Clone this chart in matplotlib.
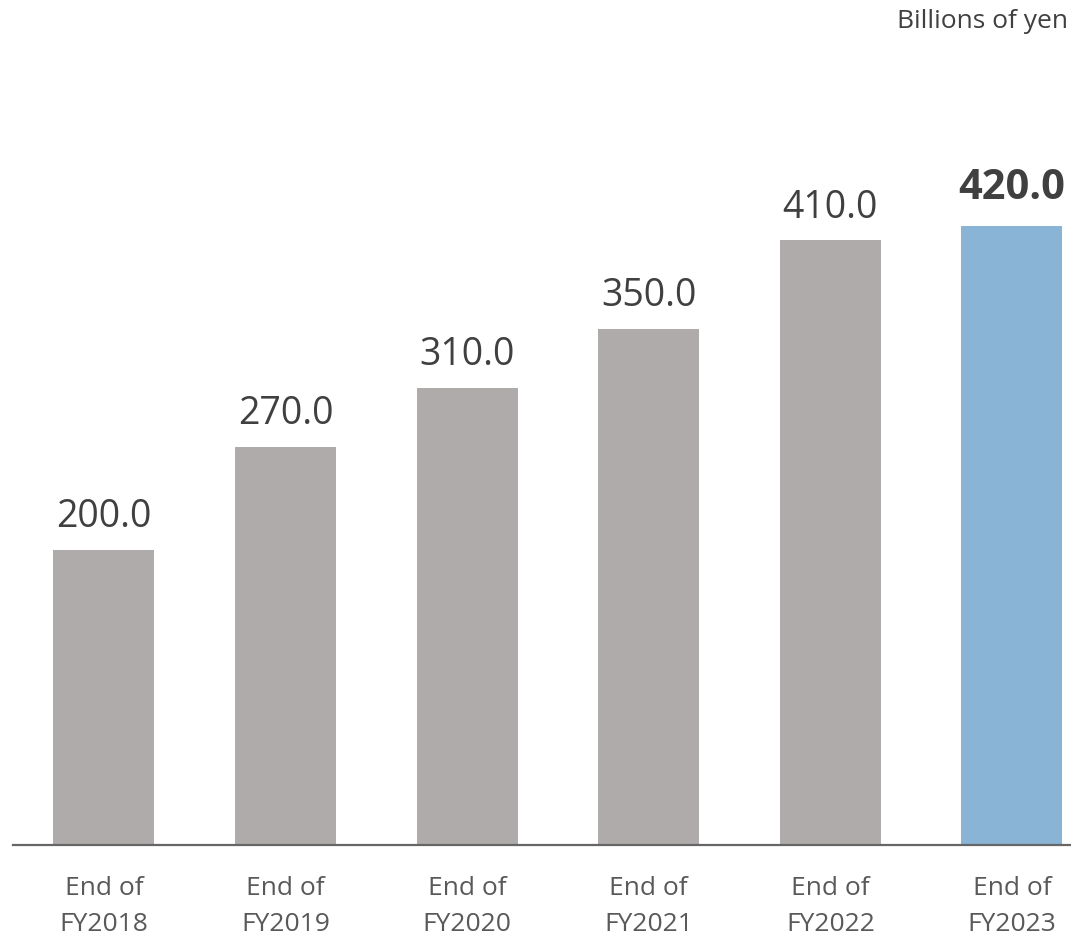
import matplotlib.pyplot as plt

# data
categories = ["End of\nFY2018", "End of\nFY2019", "End of\nFY2020",
              "End of\nFY2021", "End of\nFY2022", "End of\nFY2023"]
values = [200.0, 270.0, 310.0, 350.0, 410.0, 420.0]
colors = ["#AFABAB"] * 5 + ["#8AB4D5"]

plt.rcParams["font.family"] = ["Open Sans", "DejaVu Sans"]

fig = plt.figure(figsize=(10.71, 9.4), dpi=100)
ax = fig.add_axes([0.012, 0.101, 0.988, 0.899])

x = list(range(len(values)))
ax.bar(x, values, width=0.556, color=colors)

for i, v in enumerate(values):
    last = i == len(values) - 1
    ax.annotate(f"{v:.1f}", (i, v), xytext=(0, 12 if last else 10),
                textcoords="offset points", ha="center", va="bottom",
                fontsize=30 if last else 27, color="#404040",
                fontweight="bold" if last else "normal")

ax.set_xlim(-0.501, 5.325)
ax.set_ylim(0, 573)
ax.set_xticks(x)
ax.set_xticklabels(categories, fontsize=19, color="#595959", linespacing=1.6)
ax.tick_params(axis="x", length=0, pad=22)
ax.set_yticks([])
for s in ["top", "right", "left"]:
    ax.spines[s].set_visible(False)
ax.spines["bottom"].set_color("#666666")
ax.spines["bottom"].set_linewidth(1.6)

fig.text(0.997, 0.977, "Billions of yen", ha="right", va="center",
         fontsize=19, color="#404040")

fig.savefig("out.png", dpi=100)
